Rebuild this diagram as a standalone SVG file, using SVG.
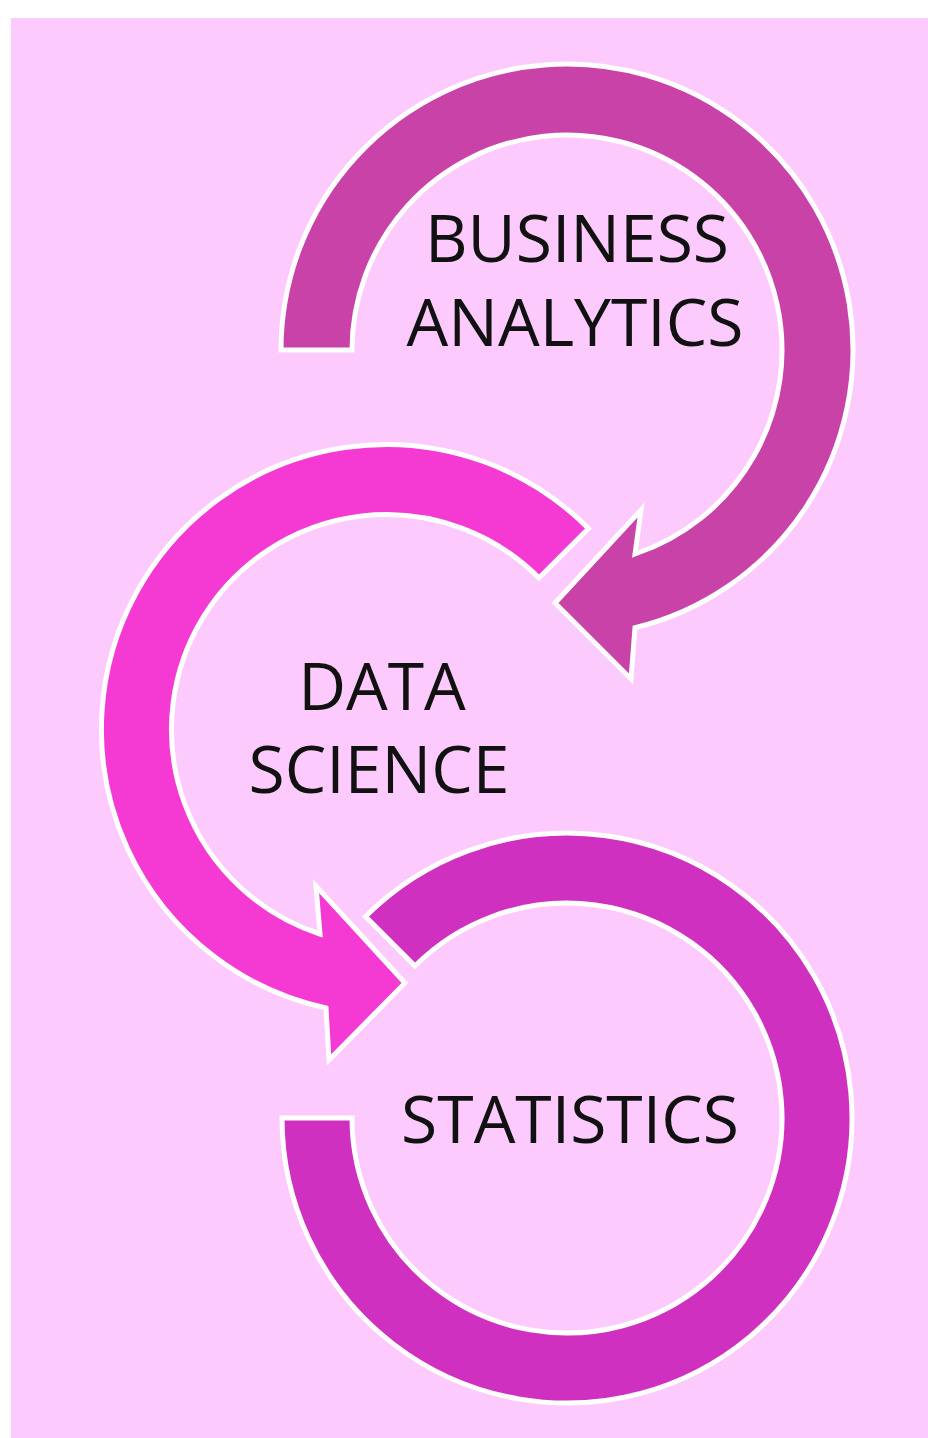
<svg xmlns="http://www.w3.org/2000/svg" width="928" height="1438" viewBox="0 0 928 1438">
<style>
.arc{stroke:#ffffff;stroke-width:5;stroke-linejoin:miter}
.lbl{font-family:"Open Sans","Liberation Sans",sans-serif;font-size:66px;fill:#111111;text-anchor:middle}
</style>
<rect x="0" y="0" width="928" height="1438" fill="#ffffff"/>
<rect x="11" y="18" width="917" height="1420" fill="#fccafc"/>
<g id="connectors">
<path id="arc-business" class="arc" fill="#c942a8" d="M 281 350 A 286 286 0 1 1 635 627.8 L 631 679 L 555 603 L 641 510 L 635 554 A 215 215 0 1 0 352 350 Z"/>
<path id="arc-data" class="arc" fill="#f43ad2" d="M 588.5 528.5 A 285 285 0 1 0 326 1008 L 329 1060 L 405 983 L 316 886 L 320 934 A 215 215 0 1 1 539 578 Z"/>
<path id="arc-stats" class="arc" fill="#d030c0" d="M 365.5 916.5 A 285 285 0 1 1 282 1118 L 352 1118 A 215 215 0 1 0 415 966 Z"/>
</g>
<g id="node-business">
<text class="lbl" x="577" y="262">BUSINESS</text>
<text class="lbl" x="575" y="346">ANALYTICS</text>
</g>
<g id="node-data">
<text class="lbl" x="382" y="710">DATA</text>
<text class="lbl" x="379" y="793">SCIENCE</text>
</g>
<g id="node-stats">
<text class="lbl" x="570" y="1143">STATISTICS</text>
</g>
</svg>
